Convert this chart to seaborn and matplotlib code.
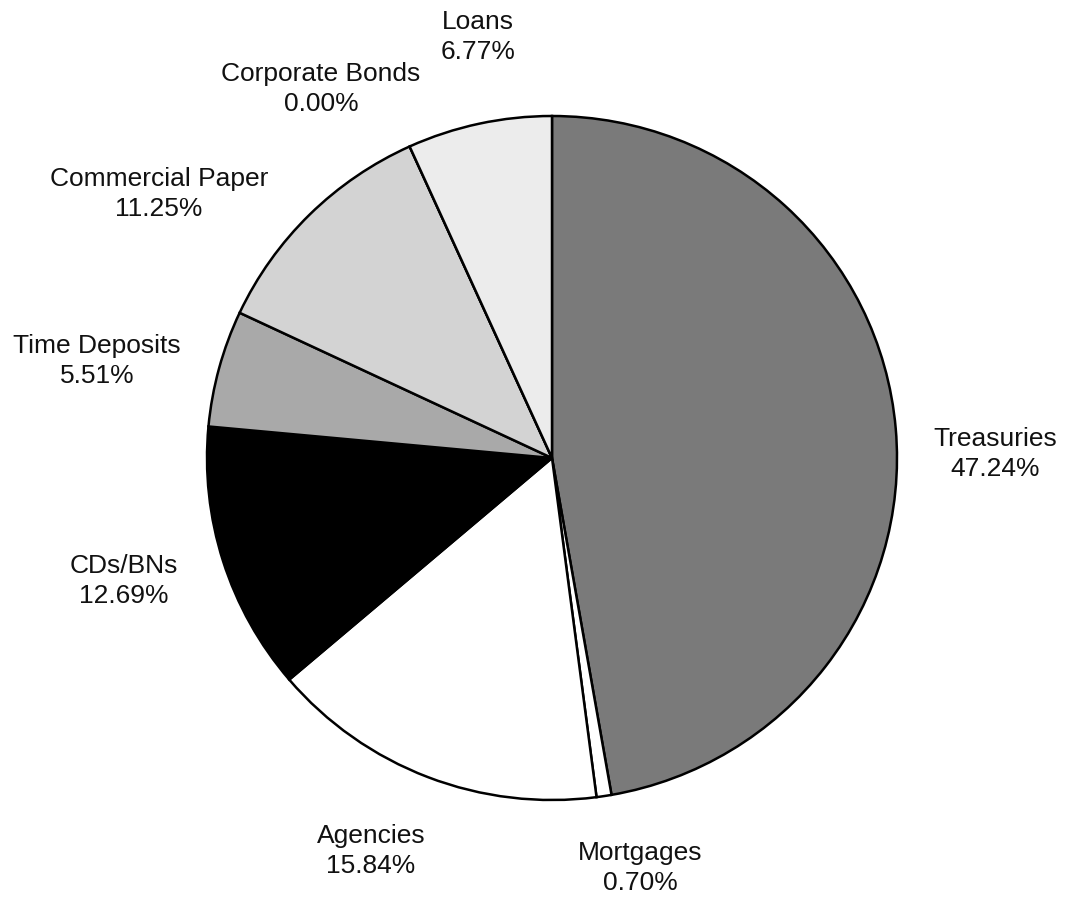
import matplotlib
matplotlib.use("Agg")
import matplotlib.pyplot as plt
import seaborn as sns

# portfolio composition, clockwise from 12 o'clock
categories = ["Treasuries", "Mortgages", "Agencies", "CDs/BNs",
              "Time Deposits", "Commercial Paper", "Corporate Bonds", "Loans"]
shares = [47.24, 0.70, 15.84, 12.69, 5.51, 11.25, 0.00, 6.77]
fills = ["#7a7a7a", "#ffffff", "#ffffff", "#000000",
         "#a9a9a9", "#d3d3d3", "#d3d3d3", "#ececec"]

# label anchors (data units, pie radius = 1)
label_xy = [(1.284, 0.012), (0.255, -1.199), (-0.525, -1.149), (-1.241, -0.360),
            (-1.319, 0.284), (-1.139, 0.772), (-0.670, 1.079), (-0.214, 1.231)]

sns.set_theme(style="white")
plt.rcParams["font.family"] = ["Liberation Sans", "DejaVu Sans"]

fig = plt.figure(figsize=(10.65, 8.98), dpi=100)
ax = fig.add_axes([0, 0, 1, 1])

ax.pie(shares, colors=fills, startangle=90, counterclock=False,
       wedgeprops=dict(edgecolor="black", linewidth=1.8))
ax.set_aspect("auto")

# place the pie where it sits in the original
cx, cy, rx, ry = 552, 458, 345, 342
ax.set_xlim(-cx / rx, (1065 - cx) / rx)
ax.set_ylim(-(898 - cy) / ry, cy / ry)
ax.axis("off")

for name, val, (x, y) in zip(categories, shares, label_xy):
    ax.text(x, y, f"{name}\n{val:.2f}%", ha="center", va="center",
            fontsize=19, color="#111111", linespacing=1.33)

fig.savefig("out.png", dpi=100, facecolor="white")
